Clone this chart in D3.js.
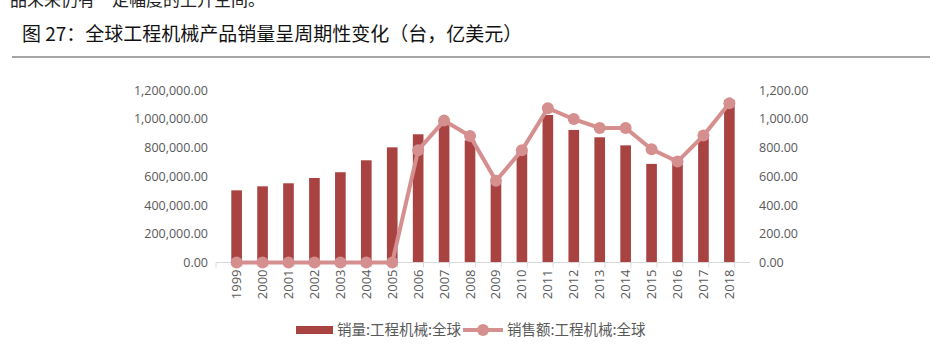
<!DOCTYPE html>
<meta charset="utf-8">
<head>
	<title>全球工程机械产品销量</title>
</head>

<style>
body{
	margin: 0;
	background: #fff;
}
svg{
	display: block;
	font-family: "Noto Sans CJK SC", "Noto Sans", sans-serif;
}
.tick text{
	fill: #595959;
}
</style>

<body>
<svg width="943" height="351"></svg>

<script src="https://cdnjs.cloudflare.com/ajax/libs/d3/7.8.5/d3.min.js"></script>
<script>

// 年份
var years = ['1999','2000','2001','2002','2003','2004','2005','2006','2007','2008',
	'2009','2010','2011','2012','2013','2014','2015','2016','2017','2018'];

// 销量（台）
var volume = [502000, 530000, 551000, 588000, 628000, 711000, 801000, 892000, 984000, 850000,
	553000, 771000, 1026000, 922000, 871000, 815000, 686000, 700000, 880000, 1130000];

// 销售额（亿美元）
var revenue = [0, 0, 0, 0, 0, 0, 0, 781, 987, 880,
	568, 781, 1073, 998, 936, 936, 788, 702, 883, 1107];

var leftTicks = [0, 200000, 400000, 600000, 800000, 1000000, 1200000];
var rightTicks = [0, 200, 400, 600, 800, 1000, 1200];

var svg = d3.select('svg');

// 上一段正文（被裁切）
svg.append('text')
	.attr('x', -7).attr('y', 6)
	.attr('font-size', 17)
	.attr('fill', '#222')
	.text('产品未来仍有一定幅度的上升空间。');

// 标题
svg.append('text')
	.attr('x', 22).attr('y', 41)
	.attr('font-size', 19)
	.attr('fill', '#111')
	.text('图 27：全球工程机械产品销量呈周期性变化（台，亿美元）');

svg.append('line')
	.attr('x1', 12).attr('x2', 930)
	.attr('y1', 57).attr('y2', 57)
	.attr('stroke', '#a6a6a6')
	.attr('stroke-width', 2);

var pLeft = 216, pRight = 750, pTop = 90, pBottom = 262.5;

var x = d3.scaleBand().domain(years).range([pLeft, pRight]).padding(0.59);
var yL = d3.scaleLinear().domain([0, 1200000]).range([pBottom, pTop]);
var yR = d3.scaleLinear().domain([0, 1200]).range([pBottom, pTop]);

var fmtL = d3.format(',.2f');

// 左轴
var gL = svg.append('g')
	.attr('transform', 'translate(' + (pLeft - 8) + ',0)')
	.call(d3.axisLeft(yL).tickValues(leftTicks).tickSize(0).tickFormat(fmtL));
gL.select('.domain').remove();
gL.selectAll('text').attr('font-size', 12.5).attr('x', 0)
	.attr('font-family', '"Open Sans", "Noto Sans", sans-serif');

// 右轴
var gR = svg.append('g')
	.attr('transform', 'translate(' + (pRight + 9) + ',0)')
	.call(d3.axisRight(yR).tickValues(rightTicks).tickSize(0).tickFormat(fmtL));
gR.select('.domain').remove();
gR.selectAll('text').attr('font-size', 12.5).attr('x', 0)
	.attr('font-family', '"Open Sans", "Noto Sans", sans-serif');

// 柱
svg.append('g')
	.selectAll('rect')
	.data(years)
	.enter().append('rect')
	.attr('x', function(d){ return x(d); })
	.attr('width', x.bandwidth())
	.attr('y', function(d, i){ return yL(volume[i]); })
	.attr('height', function(d, i){ return pBottom - yL(volume[i]); })
	.attr('fill', '#a84342');

// x 轴
var step = x.step();
svg.append('line')
	.attr('x1', pLeft).attr('x2', pRight)
	.attr('y1', pBottom).attr('y2', pBottom)
	.attr('stroke', '#d9d9d9');

svg.append('g')
	.selectAll('line')
	.data(d3.range(years.length + 1))
	.enter().append('line')
	.attr('x1', function(i){ return pLeft + i * step; })
	.attr('x2', function(i){ return pLeft + i * step; })
	.attr('y1', pBottom).attr('y2', pBottom + 5)
	.attr('stroke', '#d9d9d9');

svg.append('g')
	.selectAll('text')
	.data(years)
	.enter().append('text')
	.attr('transform', function(d){
		return 'translate(' + (x(d) + x.bandwidth() / 2 + 4.5) + ',' + (pBottom + 7) + ') rotate(-90)';
	})
	.attr('text-anchor', 'end')
	.attr('font-size', 13)
	.attr('font-family', '"Open Sans", "Noto Sans", sans-serif')
	.attr('fill', '#595959')
	.text(function(d){ return d; });

// 折线
var lineColor = '#d58f8e';
var line = d3.line()
	.x(function(d, i){ return x(years[i]) + x.bandwidth() / 2; })
	.y(function(d){ return yR(d); });

svg.append('path')
	.attr('d', line(revenue))
	.attr('fill', 'none')
	.attr('stroke', lineColor)
	.attr('stroke-width', 4);

svg.append('g')
	.selectAll('circle')
	.data(revenue)
	.enter().append('circle')
	.attr('cx', function(d, i){ return x(years[i]) + x.bandwidth() / 2; })
	.attr('cy', function(d){ return yR(d); })
	.attr('r', 6)
	.attr('fill', lineColor);

// 图例
var lg = svg.append('g').attr('font-size', 14.5).attr('fill', '#595959');
lg.append('rect')
	.attr('x', 296).attr('y', 326)
	.attr('width', 37).attr('height', 8)
	.attr('fill', '#a84342');
lg.append('text')
	.attr('x', 337).attr('y', 335)
	.text('销量:工程机械:全球');
lg.append('line')
	.attr('x1', 463).attr('x2', 503)
	.attr('y1', 330).attr('y2', 330)
	.attr('stroke', lineColor)
	.attr('stroke-width', 4);
lg.append('circle')
	.attr('cx', 483).attr('cy', 330).attr('r', 6)
	.attr('fill', lineColor);
lg.append('text')
	.attr('x', 507).attr('y', 335)
	.text('销售额:工程机械:全球');

</script>

</body>
</html>
